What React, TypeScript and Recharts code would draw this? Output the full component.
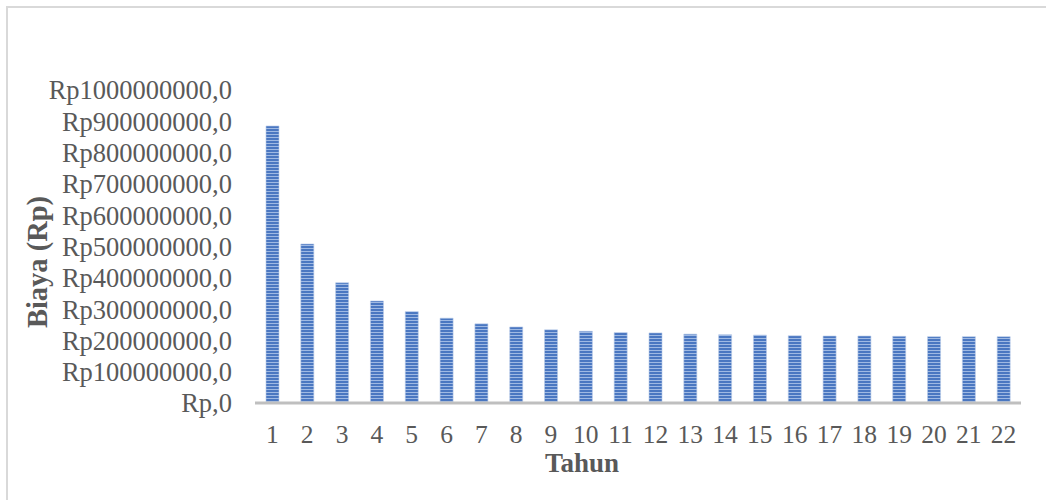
import React from 'react';
import { BarChart, Bar, XAxis, YAxis, Label } from 'recharts';

// Tahun (year index) on the category axis
const years = [
  '1', '2', '3', '4', '5', '6', '7', '8', '9', '10', '11',
  '12', '13', '14', '15', '16', '17', '18', '19', '20', '21', '22',
];

// Biaya per tahun, in rupiah
const biaya = [
  885e6, 508e6, 384e6, 326e6, 292e6, 271e6, 253e6, 243e6, 234e6, 229e6, 225e6,
  224e6, 220e6, 218e6, 217e6, 215e6, 214e6, 214e6, 213e6, 212e6, 212e6, 212e6,
];

const yTicks = [0, 1e8, 2e8, 3e8, 4e8, 5e8, 6e8, 7e8, 8e8, 9e8, 1e9];

const data = years.map((tahun, i) => ({ tahun, biaya: biaya[i] }));

const fmtRp = (v: number) => (v === 0 ? 'Rp,0' : `Rp${v},0`);

const FONT = '"Liberation Serif", "Times New Roman", serif';
const TEXT = '#595959';

export default function App() {
  return (
    <div
      style={{
        position: 'absolute',
        left: 0,
        top: 0,
        width: 1046,
        height: 500,
        background: '#fff',
        overflow: 'hidden',
        fontFamily: FONT,
      }}
    >
      <div
        style={{
          position: 'absolute',
          left: 6,
          top: 6,
          width: 1060,
          height: 520,
          borderLeft: '2px solid #d9d9d9',
          borderTop: '2px solid #d9d9d9',
        }}
      />
      <svg width={0} height={0} style={{ position: 'absolute' }}>
        <defs>
          <pattern id="stripes" patternUnits="userSpaceOnUse" width={4} height={3}>
            <rect x={0} y={0} width={4} height={3} fill="#4a77c1" />
            <rect x={0} y={2} width={4} height={1} fill="#9fb9e3" />
          </pattern>
        </defs>
      </svg>
      <div style={{ position: 'absolute', left: 0, top: 0 }}>
        <BarChart
          width={1046}
          height={500}
          data={data}
          margin={{ top: 90, right: 25, bottom: 47, left: 0 }}
          barSize={13}
        >
          <XAxis
            dataKey="tahun"
            height={50}
            axisLine={{ stroke: '#bfbfbf', strokeWidth: 3 }}
            tickLine={false}
            tickMargin={16}
            tick={{ fill: TEXT, fontSize: 25.5, fontFamily: FONT }}
            interval={0}
          >
            <Label
              content={() => (
                <text
                  x={582}
                  y={472}
                  textAnchor="middle"
                  fill={TEXT}
                  fontFamily={FONT}
                  fontSize={27}
                  fontWeight="bold"
                >
                  Tahun
                </text>
              )}
            />
          </XAxis>
          <YAxis
            width={255}
            domain={[0, 1e9]}
            ticks={yTicks}
            tickFormatter={fmtRp}
            axisLine={false}
            tickLine={false}
            tickMargin={17}
            tick={{ fill: TEXT, fontSize: 26.5, fontFamily: FONT }}
            interval={0}
          >
            <Label
              content={() => (
                <text
                  x={47}
                  y={262}
                  transform="rotate(-90, 47, 262)"
                  textAnchor="middle"
                  fill={TEXT}
                  fontFamily={FONT}
                  fontSize={28.5}
                  fontWeight="bold"
                >
                  Biaya (Rp)
                </text>
              )}
            />
          </YAxis>
          <Bar
            dataKey="biaya"
            fill="url(#stripes)"
            stroke="#b7c9e8"
            strokeWidth={0.6}
            isAnimationActive={false}
          />
        </BarChart>
      </div>
    </div>
  );
}
